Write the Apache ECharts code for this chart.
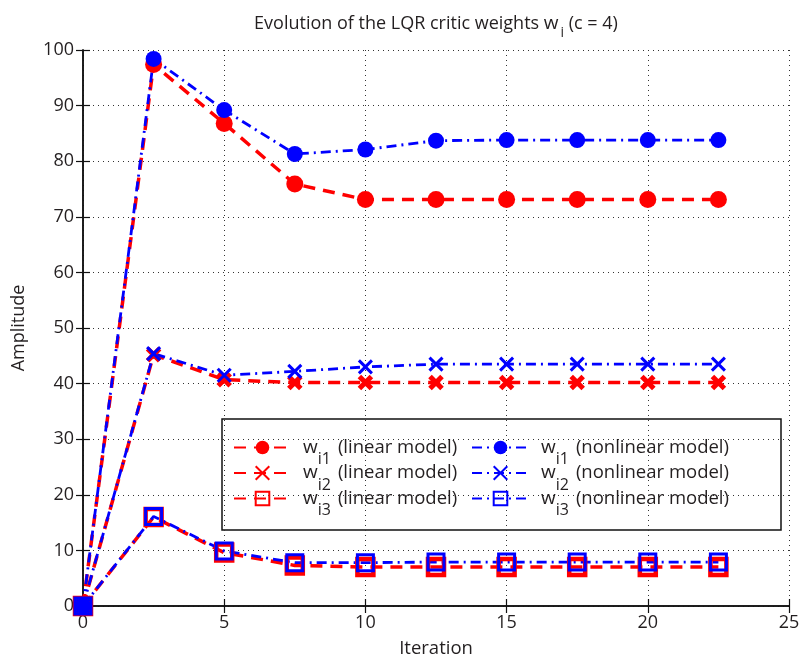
<!DOCTYPE html>
<html>
<head>
<meta charset="utf-8">
<script src="https://cdn.jsdelivr.net/npm/echarts@6/dist/echarts.min.js"></script>
<style>
  html, body { margin: 0; padding: 0; background: #fff; }
  #chart { width: 803px; height: 666px; }
</style>
</head>
<body>
<div id="chart"></div>
<script>
// Iteration steps and critic weight estimates
const iterations = [0, 2.5, 5, 7.5, 10, 12.5, 15, 17.5, 20, 22.5];
const w1Linear = [0, 97.4, 86.8, 75.9, 73.1, 73.1, 73.1, 73.1, 73.1, 73.1];
const w2Linear = [0, 45.2, 40.7, 40.2, 40.2, 40.2, 40.2, 40.2, 40.2, 40.2];
const w3Linear = [0, 16.0, 9.6, 7.3, 7.0, 7.0, 7.0, 7.0, 7.0, 7.0];
const w1Nonlinear = [0, 98.4, 89.2, 81.3, 82.1, 83.7, 83.8, 83.8, 83.8, 83.8];
const w2Nonlinear = [0, 45.4, 41.5, 42.2, 43.0, 43.5, 43.5, 43.5, 43.5, 43.5];
const w3Nonlinear = [0, 16.1, 9.9, 7.8, 7.8, 7.9, 7.9, 7.9, 7.9, 7.9];

const xTicks = [0, 5, 10, 15, 20, 25];
const yTicks = [0, 10, 20, 30, 40, 50, 60, 70, 80, 90, 100];

const seriesNames = {
  l1: 'w_i1 linear', l2: 'w_i2 linear', l3: 'w_i3 linear',
  n1: 'w_i1 nonlinear', n2: 'w_i2 nonlinear', n3: 'w_i3 nonlinear'
};

const FONT = '"Open Sans", "Noto Sans", sans-serif';
const TEXT = '#231f20';
const RED = '#ff0000';
const BLUE = '#0000ff';
const redDash = [12, 8];
const blueDashDot = [10, 5, 2, 5];

const crossPath = 'path://M0,0L10,10M10,0L0,10';
const squarePath = 'path://M0,0L10,0L10,10L0,10Z';

function pairs(vals) { return iterations.map((x, i) => [x, vals[i]]); }

function lineSeries(name, vals, color, dash, width, symbol, size, itemStyle) {
  return {
    name: name,
    type: 'line',
    data: pairs(vals),
    symbol: symbol,
    symbolSize: size,
    showAllSymbol: true,
    lineStyle: { color: color, width: width, type: dash },
    itemStyle: itemStyle,
    emphasis: { disabled: true },
    animation: false,
    z: 3
  };
}

const series = [
  lineSeries(seriesNames.l1, w1Linear, RED, redDash, 3.5, 'circle', 17,
    { color: RED }),
  lineSeries(seriesNames.l2, w2Linear, RED, redDash, 3.5, crossPath, 12,
    { color: RED, borderColor: RED, borderWidth: 5 }),
  lineSeries(seriesNames.l3, w3Linear, RED, redDash, 3.5, squarePath, 16,
    { color: 'rgba(0,0,0,0)', borderColor: RED, borderWidth: 4.5 }),
  lineSeries(seriesNames.n1, w1Nonlinear, BLUE, blueDashDot, 2.8, 'circle', 16,
    { color: BLUE }),
  lineSeries(seriesNames.n2, w2Nonlinear, BLUE, blueDashDot, 2.8, crossPath, 13,
    { color: BLUE, borderColor: BLUE, borderWidth: 3 }),
  lineSeries(seriesNames.n3, w3Nonlinear, BLUE, blueDashDot, 2.8, squarePath, 16,
    { color: 'rgba(0,0,0,0)', borderColor: BLUE, borderWidth: 3 })
];

const legendRich = {
  w: { fontSize: 19, fontFamily: FONT, color: TEXT, padding: [0, 0, 0, 7] },
  s: { fontSize: 16, fontFamily: FONT, color: TEXT, padding: [24, 0, 0, 0] },
  t: { fontSize: 18.5, fontFamily: FONT, color: TEXT, padding: [0, 0, 0, 7] }
};

function legendFormatter(name) {
  const parts = name.split(' ');
  const sub = parts[0].split('_')[1];
  return '{w|w}{s|' + sub + '}{t|(' + parts[1] + ' model)}';
}

function makeLegend(names, left) {
  return {
    data: names,
    orient: 'vertical',
    left: left,
    top: 438,
    padding: 0,
    itemWidth: 57,
    itemHeight: 17,
    itemGap: -4,
    selectedMode: false,
    formatter: legendFormatter,
    textStyle: { rich: legendRich }
  };
}

const axisCommon = {
  type: 'value',
  axisLine: { show: true, lineStyle: { color: '#111', width: 1.5 } },
  axisTick: { show: true, inside: true, length: 7, lineStyle: { color: '#111', width: 1.2 } }
};

const option = {
  backgroundColor: '#fff',
  animation: false,
  title: {
    text: 'Evolution of the LQR critic weights {w|w}{s|i} {t|(c = 4)}',
    left: 431,
    textAlign: 'center',
    top: 2,
    textStyle: {
      fontSize: 18, fontWeight: 'normal', fontFamily: FONT, color: TEXT,
      rich: {
        w: { fontSize: 19, fontFamily: FONT, color: TEXT },
        s: { fontSize: 14, fontFamily: FONT, color: TEXT, padding: [19, 0, 0, 2] },
        t: { fontSize: 18, fontFamily: FONT, color: TEXT }
      }
    }
  },
  grid: { left: 83, right: 14, top: 50, bottom: 60, containLabel: false },
  xAxis: [
    Object.assign({}, axisCommon, {
      min: xTicks[0], max: xTicks[xTicks.length - 1], interval: 5,
      position: 'bottom',
      name: 'Iteration', nameLocation: 'middle', nameGap: 33,
      nameTextStyle: { fontSize: 18.5, fontFamily: FONT, color: TEXT },
      axisLabel: { fontSize: 18, fontFamily: FONT, color: TEXT, margin: 8 },
      splitLine: { show: true, lineStyle: { color: '#333', width: 1, type: [1, 4] } }
    }),
    Object.assign({}, axisCommon, {
      min: xTicks[0], max: xTicks[xTicks.length - 1], interval: 5,
      position: 'top',
      axisLabel: { show: false }, splitLine: { show: false }
    })
  ],
  yAxis: [
    Object.assign({}, axisCommon, {
      min: yTicks[0], max: yTicks[yTicks.length - 1], interval: 10,
      position: 'left',
      name: 'Amplitude', nameLocation: 'middle', nameGap: 55,
      nameTextStyle: { fontSize: 18, fontFamily: FONT, color: TEXT },
      axisLabel: { fontSize: 18, fontFamily: FONT, color: TEXT, margin: 9 },
      splitLine: { show: true, lineStyle: { color: '#333', width: 1, type: [1, 4] } }
    }),
    Object.assign({}, axisCommon, {
      min: yTicks[0], max: yTicks[yTicks.length - 1], interval: 10,
      position: 'right',
      axisLabel: { show: false }, splitLine: { show: false }
    })
  ],
  legend: [
    makeLegend([seriesNames.l1, seriesNames.l2, seriesNames.l3], 233),
    makeLegend([seriesNames.n1, seriesNames.n2, seriesNames.n3], 471)
  ],
  graphic: [{
    type: 'rect',
    z: 0,
    shape: { x: 222, y: 419, width: 559, height: 111 },
    style: { fill: '#fff', stroke: '#111', lineWidth: 1.5 }
  }],
  series: series
};

const chart = echarts.init(document.getElementById('chart'), null, { renderer: 'canvas' });
chart.setOption(option);
</script>
</body>
</html>
